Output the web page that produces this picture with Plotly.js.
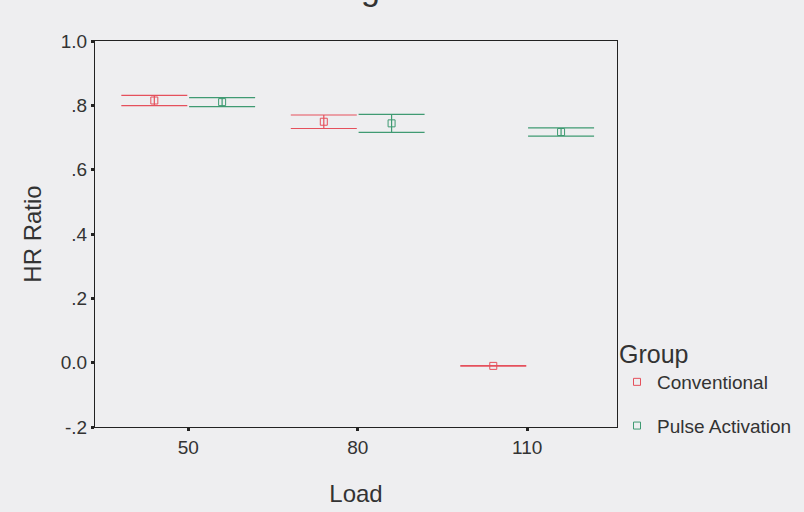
<!DOCTYPE html>
<html>
<head>
<meta charset="utf-8">
<script src="https://cdn.plot.ly/plotly-3.0.1.min.js"></script>
<style>html,body{margin:0;padding:0;background:#eeeef0;}#chart{width:804px;height:512px;}</style>
</head>
<body>
<div id="chart"></div>
<script>
var loads = ["50", "80", "110"];
var conventionalMean = [0.815, 0.749, -0.01];
var conventionalErr = [0.016, 0.021, 0.0005];
var pulseMean = [0.810, 0.744, 0.717];
var pulseErr = [0.014, 0.028, 0.013];
var yTickVals = [-0.2, 0, 0.2, 0.4, 0.6, 0.8, 1.0];
var yTickText = ["-.2", "0.0", ".2", ".4", ".6", ".8", "1.0"];

var red = "#e5505c";
var green = "#3f9a72";

function mk(name, means, errs, color, grp) {
  return {
    type: "scatter", mode: "markers", name: name,
    x: loads, y: means,
    offsetgroup: grp, legendgroup: grp,
    marker: {symbol: "square-open", size: 7, color: color, line: {width: 1, color: color}},
    error_y: {type: "data", array: errs, visible: true, color: color, thickness: 1.2, width: 33}
  };
}

var data = [
  mk("Conventional", conventionalMean, conventionalErr, red, "a"),
  mk("Pulse Activation", pulseMean, pulseErr, green, "b")
];

var font = {family: "Liberation Sans, Arial, sans-serif", color: "#222"};
var txt = "#333";
var layout = {
  width: 804, height: 512,
  paper_bgcolor: "#eeeef0", plot_bgcolor: "#eeeef0",
  font: font,
  margin: {l: 95, r: 187, t: 41, b: 85, autoexpand: false},
  scattermode: "group", scattergap: 0.2,
  showlegend: true,
  xaxis: {
    type: "category", range: [-0.55, 2.53],
    showline: true, linecolor: "#222", linewidth: 1.2, mirror: true,
    ticks: "outside", ticklen: 3, tickwidth: 3, tickcolor: "#222",
    showgrid: false, zeroline: false,
    tickfont: {size: 19, family: font.family, color: txt},
    title: {text: "Load", font: {size: 24, family: font.family, color: txt}, standoff: 28}
  },
  yaxis: {
    range: [-0.2, 1.0],
    tickvals: yTickVals, ticktext: yTickText,
    showline: true, linecolor: "#222", linewidth: 1.2, mirror: true,
    ticks: "outside", ticklen: 3, tickwidth: 3, tickcolor: "#222",
    showgrid: false, zeroline: false,
    tickfont: {size: 19, family: font.family, color: txt},
    title: {text: "HR Ratio", font: {size: 24, family: font.family, color: txt}, standoff: 12}
  },
  legend: {
    x: 1.0, xanchor: "left", y: 0.25, yanchor: "top",
    bgcolor: "rgba(0,0,0,0)",
    font: {size: 19, family: font.family, color: txt},
    title: {text: "Group", font: {size: 25, family: font.family, color: txt}},
    tracegroupgap: 16, itemwidth: 30
  },
  annotations: [{
    xref: "paper", yref: "paper", x: 0.527, y: 1.083, yanchor: "bottom", showarrow: false,
    text: "g", font: {size: 34, family: font.family, color: txt}
  }]
};

Plotly.newPlot("chart", data, layout, {displayModeBar: false});
</script>
</body>
</html>
